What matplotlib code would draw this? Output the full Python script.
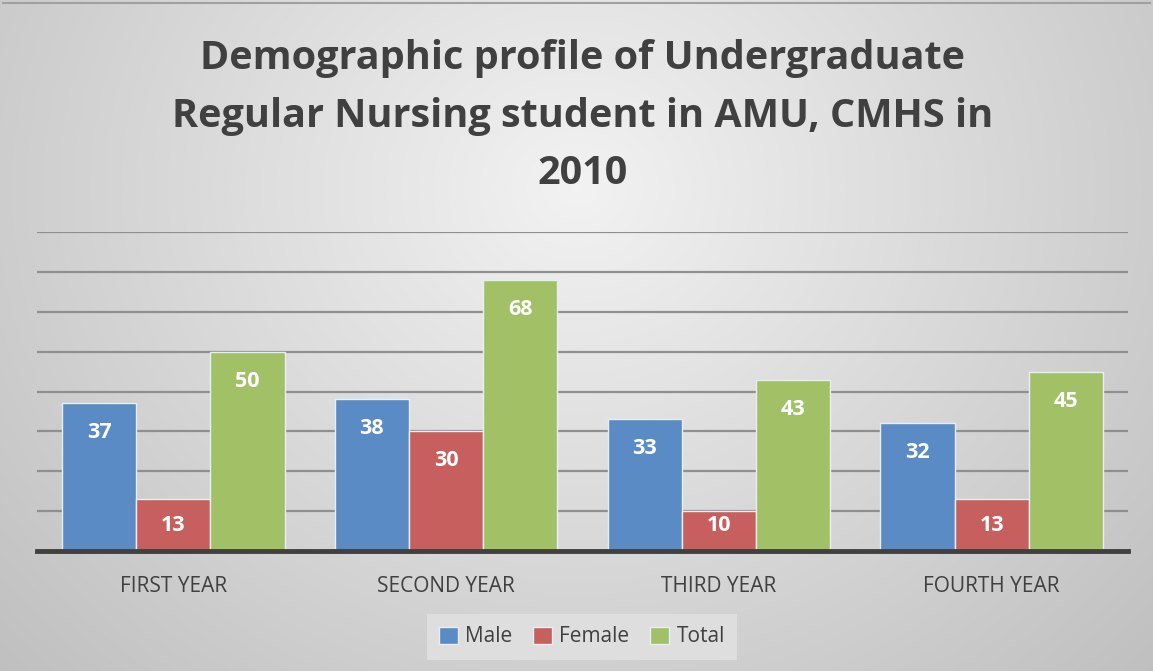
import numpy as np
import matplotlib
matplotlib.use("Agg")
import matplotlib.pyplot as plt
from matplotlib.patches import Patch

categories = ["FIRST YEAR", "SECOND YEAR", "THIRD YEAR", "FOURTH YEAR"]
male = [37, 38, 33, 32]
female = [13, 30, 10, 13]
total = [50, 68, 43, 45]
series_names = ["Male", "Female", "Total"]
colors = ["#5b8bc4", "#c65f5d", "#a2c166"]
title = "Demographic profile of Undergraduate\nRegular Nursing student in AMU, CMHS in\n2010"

W, H = 1153, 671
fig = plt.figure(figsize=(W / 100, H / 100), dpi=100)

# background radial gradient
bg = fig.add_axes([0, 0, 1, 1], zorder=-10)
yy, xx = np.mgrid[0:H, 0:W]
cx, cy = 0.5 * W, 0.28 * H
d = np.sqrt(((xx - cx) / (0.62 * W)) ** 2 + ((yy - cy) / (0.95 * H)) ** 2)
val = 0.95 - 0.18 * np.clip(d, 0, 1.2)
img = np.dstack([val, val, val])
bg.imshow(img, aspect="auto", extent=[0, 1, 0, 1], origin="upper")
bg.plot([0.003, 0.997], [0.996, 0.996], color="#a0a0a0", lw=1.5, transform=bg.transAxes)
bg.set_xlim(0, 1)
bg.set_ylim(0, 1)
bg.axis("off")

ax = fig.add_axes([37 / W, 1 - 551 / H, (1128 - 37) / W, (551 - 232) / H])
ax.patch.set_alpha(0)
x = np.arange(len(categories))
bw = 0.272
for i, (vals, c) in enumerate(zip([male, female, total], colors)):
    bars = ax.bar(x + (i - 1) * bw, vals, width=bw, color=c, edgecolor="#e8eef5",
                  linewidth=1.0, zorder=3)
    for b, v in zip(bars, vals):
        ax.text(b.get_x() + b.get_width() / 2, max(v - 7.4, 6.5), str(v), ha="center",
                va="center", color="white", fontsize=15.5, fontweight="bold",
                family="Open Sans", zorder=4)

ax.set_xlim(-0.5, len(categories) - 0.5)
ax.set_ylim(0, 80)
ax.set_yticks(np.arange(10, 81, 10))
ax.yaxis.grid(True, color="#8f8f8f", linewidth=1.6, zorder=0)
ax.tick_params(axis="y", left=False, labelleft=False)
ax.tick_params(axis="x", length=0, pad=18)
ax.set_xticks(x)
ax.set_xticklabels(categories, fontsize=15, color="#404040", family="Open Sans")
for s in ["top", "right", "left"]:
    ax.spines[s].set_visible(False)
ax.spines["bottom"].set_color("#404040")
ax.spines["bottom"].set_linewidth(3.5)
ax.spines["bottom"].set_zorder(5)

fig.text(0.505, 1 - 116 / H, title, ha="center", va="center", fontsize=28.5,
         fontweight="bold", color="#404040", family="Open Sans", linespacing=1.63)

handles = [Patch(facecolor=c, edgecolor="#e8eef5", label=n) for n, c in zip(series_names, colors)]
leg = fig.legend(handles=handles, loc="center", bbox_to_anchor=(582 / W, 1 - 637 / H), ncol=3,
                 frameon=True, handlelength=0.9, handleheight=0.9,
                 columnspacing=1.0, handletextpad=0.35, borderpad=0.6,
                 prop={"family": "Open Sans", "size": 15})
leg.get_frame().set_facecolor("#e2e2e2")
leg.get_frame().set_edgecolor("none")
leg.get_frame().set_boxstyle("square", pad=0)
for t in leg.get_texts():
    t.set_color("#404040")

fig.savefig("out.png", dpi=100)
